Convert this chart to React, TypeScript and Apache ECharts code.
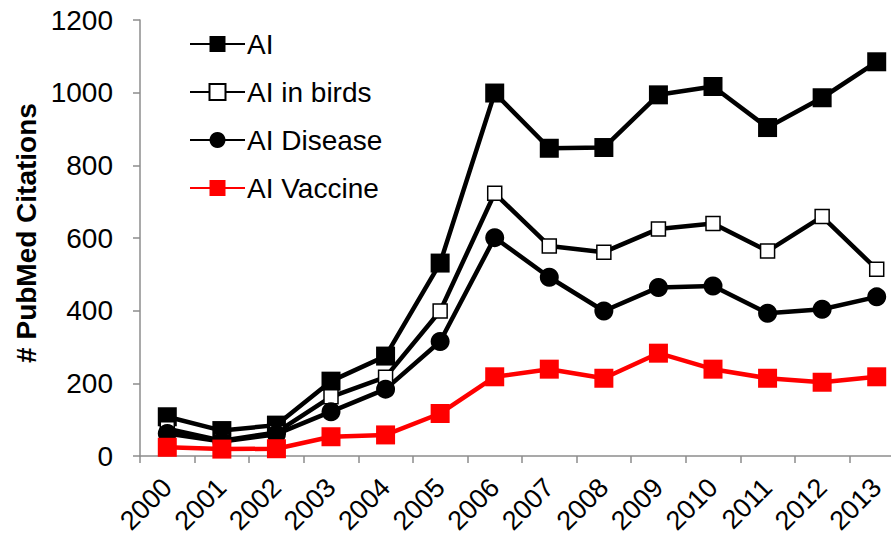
import React, { useEffect, useRef } from "react";
import * as echarts from "echarts";

const years = ["2000", "2001", "2002", "2003", "2004", "2005", "2006", "2007", "2008", "2009", "2010", "2011", "2012", "2013"];
const aiValues = [108, 70, 85, 206, 275, 531, 999, 847, 849, 994, 1017, 904, 986, 1085];
const birdsValues = [75, 42, 65, 163, 217, 399, 723, 578, 561, 625, 640, 564, 659, 514];
const diseaseValues = [62, 40, 60, 122, 184, 315, 601, 492, 399, 464, 468, 393, 404, 438];
const vaccineValues = [24, 19, 20, 53, 58, 117, 218, 239, 214, 283, 239, 214, 203, 218];
const yTicks = { min: 0, max: 1200, interval: 200 };
const yTitle = "# PubMed Citations";

const FONT = "'Liberation Sans', Arial, sans-serif";

export default function App() {
  const ref = useRef<HTMLDivElement>(null);
  useEffect(() => {
    if (!ref.current) return;
    const chart = echarts.init(ref.current, null, { renderer: "svg" });
    chart.setOption({
      animation: false,
      backgroundColor: "#ffffff",
      grid: { left: 140, top: 20, right: -13, bottom: 85, containLabel: false, outerBoundsMode: "none" },
      legend: {
        orient: "vertical",
        left: 184,
        top: 25,
        itemWidth: 55,
        itemHeight: 20,
        itemGap: 20,
        textStyle: { fontSize: 28, color: "#000", fontFamily: FONT, padding: [0, 0, 0, -3] },
        data: ["AI", "AI in birds", "AI Disease", "AI Vaccine"],
      },
      xAxis: {
        type: "category",
        data: years,
        boundaryGap: true,
        axisLine: { lineStyle: { color: "#8c8c8c", width: 1.5 } },
        axisTick: { show: true, length: 7, lineStyle: { color: "#8c8c8c", width: 1.5 } },
        axisLabel: { rotate: 45, fontSize: 27, color: "#000", fontFamily: FONT, margin: 27, interval: 0 },
        splitLine: { show: false },
      },
      yAxis: {
        type: "value",
        min: yTicks.min,
        max: yTicks.max,
        interval: yTicks.interval,
        axisLine: { show: true, lineStyle: { color: "#8c8c8c", width: 1.5 } },
        axisTick: { show: true, length: 7, lineStyle: { color: "#8c8c8c", width: 1.5 } },
        axisLabel: { fontSize: 28, color: "#000", fontFamily: FONT, margin: 27, formatter: (v: number) => String(v) },
        splitLine: { show: false },
      },
      graphic: [
        {
          type: "text",
          x: 26,
          y: 233,
          rotation: Math.PI / 2,
          style: {
            text: yTitle,
            fontSize: 28,
            fontWeight: "bold",
            fontFamily: FONT,
            fill: "#000",
            textAlign: "center",
            textVerticalAlign: "middle",
          },
        },
      ],
      series: [
        {
          name: "AI",
          type: "line",
          data: aiValues,
          symbol: "rect",
          symbolSize: 19,
          itemStyle: { color: "#000" },
          lineStyle: { color: "#000", width: 4.5 },
          clip: false,
        },
        {
          name: "AI in birds",
          type: "line",
          data: birdsValues,
          symbol: "rect",
          symbolSize: 14,
          itemStyle: { color: "#fff", borderColor: "#000", borderWidth: 1.5 },
          lineStyle: { color: "#000", width: 4.5 },
          clip: false,
        },
        {
          name: "AI Disease",
          type: "line",
          data: diseaseValues,
          symbol: "circle",
          symbolSize: 19,
          itemStyle: { color: "#000" },
          lineStyle: { color: "#000", width: 4.5 },
          clip: false,
        },
        {
          name: "AI Vaccine",
          type: "line",
          data: vaccineValues,
          symbol: "rect",
          symbolSize: 19,
          itemStyle: { color: "#ff0000" },
          lineStyle: { color: "#ff0000", width: 4.5 },
          clip: false,
        },
      ],
    });
    return () => chart.dispose();
  }, []);
  return (
    <div
      ref={ref}
      style={{ position: "absolute", left: 0, top: 0, width: 891, height: 541, overflow: "hidden" }}
    />
  );
}
